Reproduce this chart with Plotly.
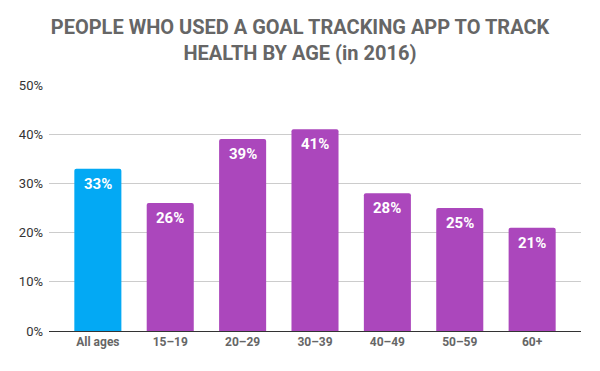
import plotly.graph_objects as go

categories = ["All ages", "15–19", "20–29", "30–39", "40–49", "50–59", "60+"]
values = [33, 26, 39, 41, 28, 25, 21]
colors = ["#03A9F4", "#AB47BC", "#AB47BC", "#AB47BC", "#AB47BC", "#AB47BC", "#AB47BC"]
y_ticks = [0, 10, 20, 30, 40, 50]
y_tick_labels = ["0%", "10%", "20%", "30%", "40%", "50%"]

fig = go.Figure(go.Bar(
    x=categories, y=values,
    marker=dict(color=colors, line=dict(width=0)),
    width=0.65,
    hoverinfo="x+y",
))

for c, v in zip(categories, values):
    fig.add_annotation(
        x=c, y=v, text=f"{v}%", showarrow=False,
        yanchor="middle", yshift=-15,
        font=dict(family="Roboto", size=15, color="white", weight="bold"),
    )

fig.update_layout(
    width=600, height=371,
    margin=dict(l=49, r=19, t=85, b=40),
    paper_bgcolor="white", plot_bgcolor="white",
    barcornerradius=2,
    title=dict(
        text="PEOPLE WHO USED A GOAL TRACKING APP TO TRACK<br>HEALTH BY AGE (in 2016)",
        x=0.5, xanchor="center", y=0.908, yanchor="top",
        font=dict(family="Roboto", size=20, color="#666666", weight="bold"),
    ),
    showlegend=False,
)
fig.update_xaxes(
    range=[-0.675, 6.675],
    tickfont=dict(family="Roboto", size=12, color="#666666", weight="bold"),
    showline=True, linecolor="#333333", linewidth=1,
    ticks="", showgrid=False,
)
fig.update_yaxes(
    range=[0, 50],
    tickvals=y_ticks, ticktext=y_tick_labels,
    tickfont=dict(family="Roboto", size=13, color="#333333"),
    showgrid=True, gridcolor="#cccccc", gridwidth=1,
    zeroline=False, ticks="", ticklabelstandoff=5,
)

fig.write_html(
    "out.html",
    config={"displayModeBar": False},
    post_script="document.body.style.margin='0';document.body.style.overflow='hidden';",
)
